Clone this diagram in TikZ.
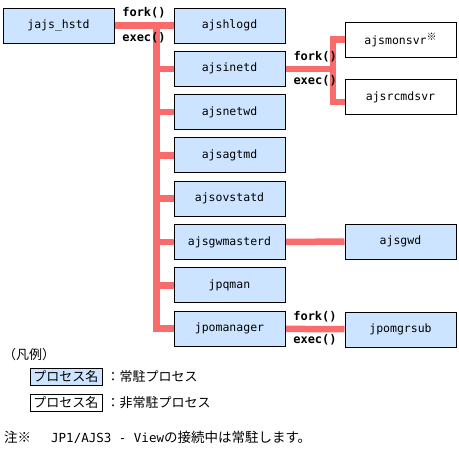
\documentclass[tikz,border=0pt]{standalone}
\usepackage{fontspec}
\setmonofont{DejaVu Sans Mono}
\newfontfamily\cjk{Noto Sans CJK JP}
\usetikzlibrary{positioning}
\usetikzlibrary{backgrounds}

\definecolor{procblue}{RGB}{204,228,255}
\definecolor{linkred}{RGB}{250,107,107}

\tikzset{
	proc/.style={draw, line width=1pt, fill=procblue, minimum width=111pt, minimum height=35pt, inner sep=0pt, font=\fontsize{11.5}{12}\ttfamily},
	idle/.style={proc, fill=white},
	keybox/.style={proc, minimum width=72pt, minimum height=17pt, font=\cjk\fontsize{13}{13}\selectfont},
	link/.style={draw=linkred, line width=6.5pt},
	call/.style={font=\fontsize{12}{12}\ttfamily\bfseries, inner sep=0pt},
	jtext/.style={inner sep=0pt, font=\cjk\fontsize{13}{13}\selectfont}
}

\begin{document}
\begin{tikzpicture}[x=1pt, y=-1pt]
	\useasboundingbox (0,0) rectangle (459,450);

	% parent process
	\node[proc] (hstd) at (58.5,25.5) {jajs\_hstd};

	% processes started by jajs_hstd
	\foreach \name [count=\i from 0] in {ajshlogd, ajsinetd, ajsnetwd, ajsagtmd, ajsovstatd, ajsgwmasterd, jpqman, jpomanager} {
		\node[proc] (\name) at (229.5, {25.5+43.3*\i}) {\name};
	}

	\node[idle] (ajsmonsvr) at (400.5,39.5) {ajsmonsvr\raisebox{4pt}{\cjk\fontsize{10}{10}\selectfont ※}};
	\node[idle] (ajsrcmdsvr) at (400.5,97) {ajsrcmdsvr};
	\node[proc] (ajsgwd) at (400.5,241.5) {ajsgwd};
	\node[proc] (jpomgrsub) at (400.5,329.5) {jpomgrsub};

	% branch points
	\coordinate (ft) at (156.5,25.5);
	\coordinate (fb) at (156.5,328.6);
	\coordinate (st) at (333,39.5);
	\coordinate (sb) at (333,102);

	\begin{pgfonlayer}{background}
		\draw[link] (hstd) -- (ajshlogd);
		\draw[link, line cap=rect] (ft) -- (fb);
		\foreach \name in {ajsinetd, ajsnetwd, ajsagtmd, ajsovstatd, ajsgwmasterd, jpqman, jpomanager} {
			\draw[link] (ft |- \name.west) -- (\name.west);
		}

		\draw[link] (ajsinetd.east) -- (ajsinetd.east -| st);
		\draw[link, line cap=rect] (st) -- (sb);
		\draw[link] (st) -- (st -| ajsmonsvr.west);
		\draw[link] (sb) -- (sb -| ajsrcmdsvr.west);

		\draw[link] (ajsgwmasterd) -- (ajsgwd);
		\draw[link] (jpomanager) -- (jpomgrsub);
	\end{pgfonlayer}

	% fork / exec labels over the lines
	\path (hstd.east) -- node[call, yshift=13pt] {fork()} node[call, yshift=-12pt] {exec()} (ajshlogd.west);
	\path (ajsinetd.east) -- node[call, pos=0.625, yshift=12.5pt] {fork()} node[call, pos=0.625, yshift=-11.5pt] {exec()} (ajsinetd.east -| st);
	\path (jpomanager.east) -- node[call, yshift=12.5pt] {fork()} node[call, yshift=-11pt] {exec()} (jpomgrsub.west);

	% legend
	\node[jtext, anchor=west] (legend) at (3,355) {（凡例）};
	\node[keybox] (keyres) at (66,377) {プロセス名};
	\node[jtext, right=4pt of keyres] (keyrestext) {：常駐プロセス};
	\node[keybox, fill=white] (keyidle) at (66,403) {プロセス名};
	\node[jtext, right=4pt of keyidle] (keyidletext) {：非常駐プロセス};

	\node[jtext, anchor=west, font=\cjk\fontsize{13.5}{13.5}\selectfont] (note) at (4,437) {注※\hspace{20pt}{\ttfamily\fontsize{12.5}{12.5}\selectfont JP1/AJS3 - View}の接続中は常駐します。};
\end{tikzpicture}
\end{document}
